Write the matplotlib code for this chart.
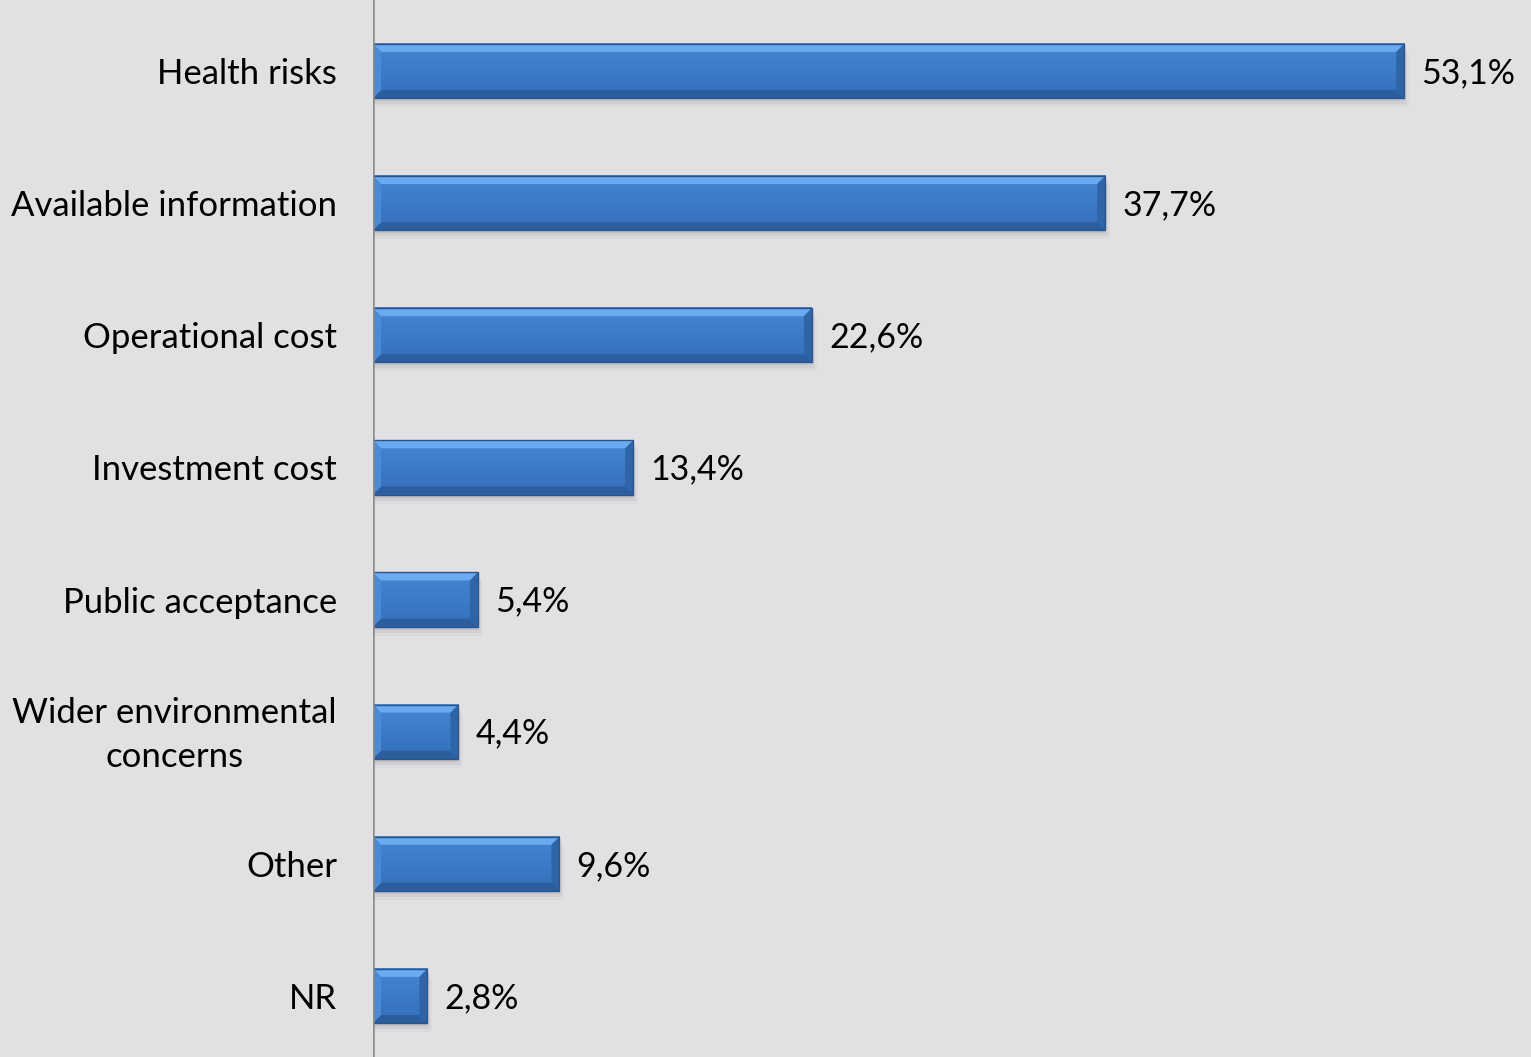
import matplotlib
matplotlib.use("Agg")
import matplotlib.pyplot as plt
from matplotlib.patches import Rectangle, Polygon
import numpy as np

categories = ["Health risks", "Available information", "Operational cost",
              "Investment cost", "Public acceptance",
              "Wider environmental\nconcerns", "Other", "NR"]
values = [53.1, 37.7, 22.6, 13.4, 5.4, 4.4, 9.6, 2.8]
value_labels = ["53,1%", "37,7%", "22,6%", "13,4%", "5,4%", "4,4%", "9,6%", "2,8%"]

W, H = 1531, 1057
BG = "#e1e1e3"
plt.rcParams["font.family"] = ["Lato", "DejaVu Sans"]

fig = plt.figure(figsize=(W / 100, H / 100), dpi=100, facecolor=BG)
ax_left = 373 / W
ax = fig.add_axes([ax_left, 0, 1 - ax_left, 1], facecolor=BG)

px_per_unit = 19.42
ax.set_xlim(0, (W - 373) / px_per_unit)
step = 132.14
ax.set_ylim(7 + 61 / step, -71 / step)

bar_h = 0.41
bev_x = 8 / px_per_unit
bev_y = 8 / step

top_c = "#6aaaf0"
bot_c = "#2c5d9c"
left_c = "#4b8bd6"
right_c = "#2f64a6"
body_cmap = matplotlib.colors.LinearSegmentedColormap.from_list(
    "body", ["#4485d1", "#3c7bc8", "#356fb8"])

for i, (v, lab) in enumerate(zip(values, value_labels)):
    y0 = i - bar_h / 2
    y1 = i + bar_h / 2
    # soft shadow under the bar
    for k, a in enumerate([0.10, 0.07, 0.04]):
        dy = (3 + 3 * k) / step
        ax.add_patch(Rectangle((0.05, y0 + dy), v + 0.1 * k, bar_h, facecolor="#505050",
                               alpha=a, edgecolor="none", zorder=1))
    # body with a gentle vertical gradient
    grad = np.linspace(0, 1, 64).reshape(-1, 1)
    ax.imshow(grad, extent=(0, v, y1, y0), aspect="auto", cmap=body_cmap,
              zorder=2, interpolation="bilinear")
    # bevel faces
    ax.add_patch(Polygon([(0, y0), (v, y0), (v - bev_x, y0 + bev_y), (bev_x, y0 + bev_y)],
                         closed=True, facecolor=top_c, edgecolor="none", zorder=3))
    ax.add_patch(Polygon([(0, y1), (v, y1), (v - bev_x, y1 - bev_y), (bev_x, y1 - bev_y)],
                         closed=True, facecolor=bot_c, edgecolor="none", zorder=3))
    ax.add_patch(Polygon([(0, y0), (bev_x, y0 + bev_y), (bev_x, y1 - bev_y), (0, y1)],
                         closed=True, facecolor=left_c, edgecolor="none", zorder=3))
    ax.add_patch(Polygon([(v, y0), (v - bev_x, y0 + bev_y), (v - bev_x, y1 - bev_y), (v, y1)],
                         closed=True, facecolor=right_c, edgecolor="none", zorder=3))
    ax.add_patch(Rectangle((0, y0), v, bar_h, facecolor="none", edgecolor="#2a548a",
                           linewidth=1.0, zorder=4))
    ax.text(v + 17 / px_per_unit, i + 2 / step, lab, ha="left", va="center",
            fontsize=24.5, color="#000000", zorder=5)

for i, cat in enumerate(categories):
    ax.text(-36 / px_per_unit, i + 3 / step, cat, ha="right", va="center",
            multialignment="center", fontsize=25, color="#000000", clip_on=False,
            linespacing=1.45)

ax.axvline(0, color="#8c8c8c", linewidth=1.8, zorder=6)
for s in ax.spines.values():
    s.set_visible(False)
ax.set_xticks([])
ax.set_yticks([])

fig.savefig("out.png", dpi=100, facecolor=BG)
